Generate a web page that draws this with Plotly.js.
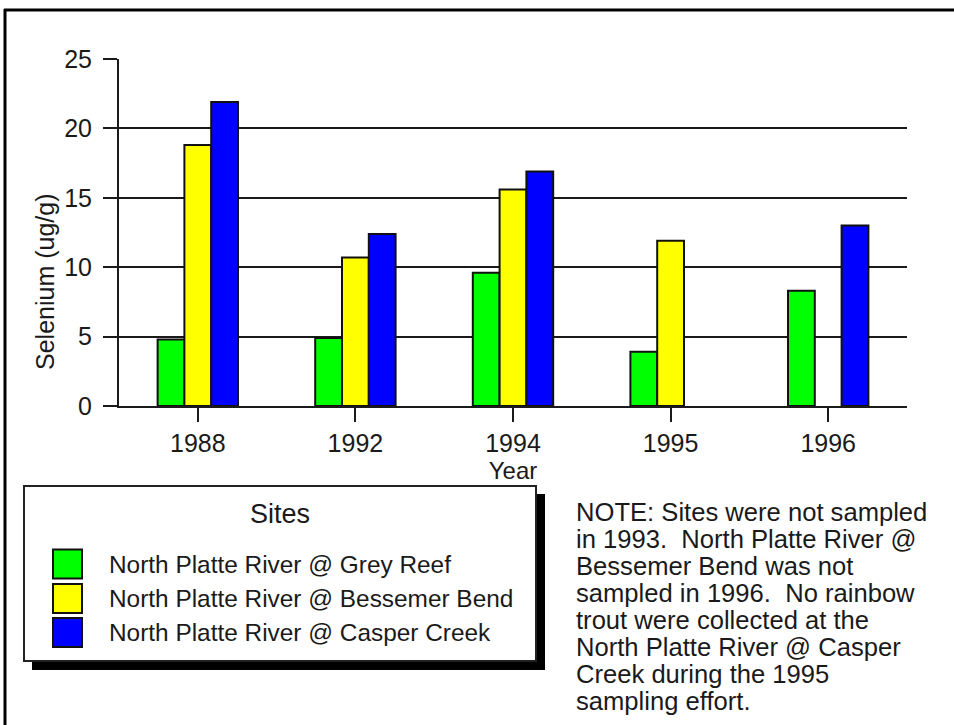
<!DOCTYPE html>
<html>
<head>
<meta charset="utf-8">
<script src="https://cdn.plot.ly/plotly-3.0.1.min.js"></script>
<style>
  html, body { margin: 0; padding: 0; background: #fff; }
  #chart { width: 954px; height: 725px; }
</style>
</head>
<body>
<div id="chart"></div>
<script>
// ---- data ----
const years = ['1988', '1992', '1994', '1995', '1996'];
const greyReef = [4.8, 4.9, 9.6, 3.9, 8.3];
const bessemerBend = [18.8, 10.7, 15.6, 11.9, null];
const casperCreek = [21.9, 12.4, 16.9, null, 13.0];

const siteNames = [
  'North Platte River @ Grey Reef',
  'North Platte River @ Bessemer Bend',
  'North Platte River @ Casper Creek'
];
const siteColors = ['#00ff00', '#ffff00', '#0000ff'];
const seriesValues = [greyReef, bessemerBend, casperCreek];

const yTitle = 'Selenium (ug/g)';
const xTitle = 'Year';
const legendTitle = 'Sites';
const noteLines = [
  'NOTE: Sites were not sampled',
  'in 1993.  North Platte River @',
  'Bessemer Bend was not',
  'sampled in 1996.  No rainbow',
  'trout were collected at the',
  'North Platte River @ Casper',
  'Creek during the 1995',
  'sampling effort.'
];

// ---- layout geometry (pixels) ----
const W = 954, H = 725;
const L = 119, R = 907, T = 59, B = 406;
const px = x => (x - L) / (R - L);
const py = y => (B - y) / (B - T);

const FONT = 'Liberation Sans, Arial, Helvetica, sans-serif';
const INK = '#1a1a1a';

const traces = seriesValues.map((vals, i) => ({
  type: 'bar',
  name: siteNames[i],
  x: years,
  y: vals,
  marker: { color: siteColors[i], line: { color: '#111', width: 2 } },
  showlegend: false,
  hoverinfo: 'x+y+name'
}));

const shapes = [];
const annotations = [];

// frame lines (top and left)
shapes.push({ type: 'line', xref: 'paper', yref: 'paper', x0: px(4), x1: px(W), y0: py(10), y1: py(10), line: { color: '#000', width: 3 }, layer: 'above' });
shapes.push({ type: 'line', xref: 'paper', yref: 'paper', x0: px(5), x1: px(5), y0: py(9), y1: py(H), line: { color: '#000', width: 3 }, layer: 'above' });

// legend shadow and box
shapes.push({ type: 'rect', xref: 'paper', yref: 'paper', x0: px(32), x1: px(545), y0: py(494), y1: py(670), fillcolor: '#000', line: { width: 0 }, layer: 'above' });
shapes.push({ type: 'rect', xref: 'paper', yref: 'paper', x0: px(24), x1: px(536), y0: py(486), y1: py(661), fillcolor: '#fff', line: { color: '#222', width: 2 }, layer: 'above' });

annotations.push({ xref: 'paper', yref: 'paper', x: px(280), y: py(514), xanchor: 'center', yanchor: 'middle', showarrow: false, text: legendTitle, font: { family: FONT, size: 27, color: INK } });

const rowCenters = [564, 598.5, 632.5];
siteNames.forEach((nm, i) => {
  const cy = rowCenters[i];
  shapes.push({ type: 'rect', xref: 'paper', yref: 'paper', x0: px(53), x1: px(82), y0: py(cy - 14.5), y1: py(cy + 14.5), fillcolor: siteColors[i], line: { color: '#111', width: 2 }, layer: 'above' });
  annotations.push({ xref: 'paper', yref: 'paper', x: px(107), y: py(cy), xanchor: 'left', yanchor: 'middle', showarrow: false, text: nm, font: { family: FONT, size: 24.4, color: INK } });
});

// note text, one line per annotation
noteLines.forEach((ln, k) => {
  annotations.push({ xref: 'paper', yref: 'paper', x: px(574), y: py(511.5 + 27.1 * k), xanchor: 'left', yanchor: 'middle', showarrow: false, text: ln, font: { family: FONT, size: 25.6, color: INK } });
});

// y axis title
annotations.push({ xref: 'paper', yref: 'paper', x: px(45), y: py(282), xanchor: 'center', yanchor: 'middle', showarrow: false, textangle: -90, text: yTitle, font: { family: FONT, size: 25, color: INK } });

const layout = {
  width: W, height: H,
  margin: { l: L, r: W - R, t: T, b: H - B, pad: 0 },
  paper_bgcolor: '#fff', plot_bgcolor: '#fff',
  barmode: 'group', bargap: 0.49, bargroupgap: 0,
  font: { family: FONT, size: 25, color: INK },
  xaxis: {
    type: 'category',
    range: [-0.5, 4.5],
    showline: true, linecolor: INK, linewidth: 2,
    ticks: 'outside', ticklen: 14, tickwidth: 2, tickcolor: INK,
    showgrid: false,
    tickfont: { family: FONT, size: 25, color: INK },
    title: { text: xTitle, font: { family: FONT, size: 24, color: INK }, standoff: 3 },
    automargin: false, fixedrange: true
  },
  yaxis: {
    range: [0, 25], dtick: 5, tick0: 0,
    showline: true, linecolor: INK, linewidth: 2,
    ticks: 'outside', ticklen: 14, tickwidth: 2, tickcolor: INK,
    showgrid: true, gridcolor: INK, gridwidth: 2,
    zeroline: false,
    tickfont: { family: FONT, size: 25, color: INK },
    ticklabelstandoff: 6,
    automargin: false, fixedrange: true
  },
  shapes: shapes,
  annotations: annotations
};

Plotly.newPlot('chart', traces, layout, { displayModeBar: false, staticPlot: true });
</script>
</body>
</html>
